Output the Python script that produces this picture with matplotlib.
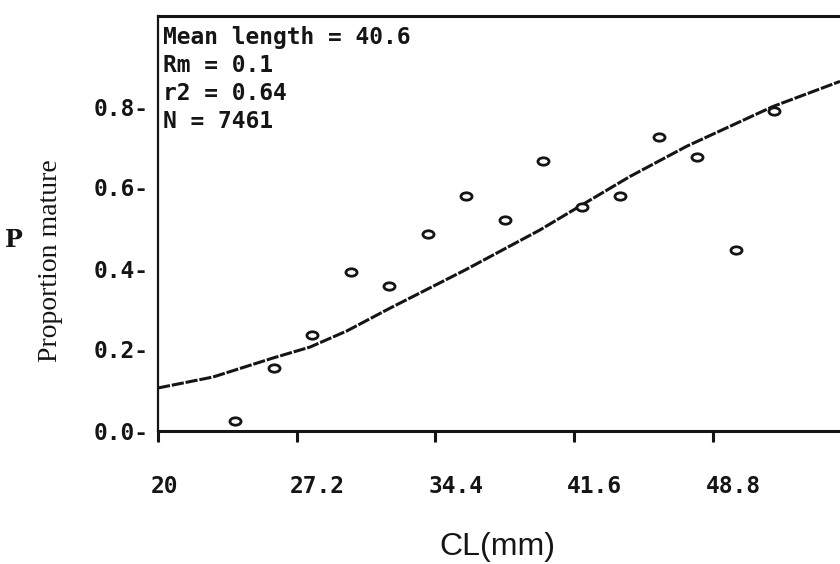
import matplotlib
matplotlib.use("Agg")
import matplotlib.pyplot as plt
from matplotlib.path import Path
from matplotlib.transforms import Affine2D, ScaledTranslation

# ---- data ----
length_cl = [24, 26, 28, 30, 32, 34, 36, 38, 40, 42, 44, 46, 48, 50, 52]
prop_mature = [0.023, 0.154, 0.236, 0.391, 0.357, 0.485, 0.579, 0.520,
               0.665, 0.553, 0.580, 0.725, 0.675, 0.446, 0.789]

fit_cl = [20.0, 22.85, 25.97, 27.89, 29.81, 32.04, 35.93, 39.82,
          41.90, 44.49, 47.45, 51.92, 55.4]
fit_p = [0.105, 0.132, 0.179, 0.206, 0.246, 0.302, 0.396, 0.495,
         0.554, 0.627, 0.702, 0.800, 0.862]

x_ticks = [20, 27.2, 34.4, 41.6, 48.8]
x_tick_labels = ["20", "27.2", "34.4", "41.6", "48.8"]
y_ticks = [0.0, 0.2, 0.4, 0.6, 0.8]
y_tick_labels = ["0.0-", "0.2-", "0.4-", "0.6-", "0.8-"]

stats_lines = ["Mean length = 40.6", "Rm = 0.1", "r2 = 0.64", "N = 7461"]

# ---- figure ----
W, H, DPI = 840, 564, 100
fig = plt.figure(figsize=(W / DPI, H / DPI), dpi=DPI, facecolor="white")
left, right, top, bottom = 158, 840, 16, 430.5
ax = fig.add_axes([left / W, 1 - bottom / H, (right - left) / W, (bottom - top) / H])
ax.set_xlim(20, 55.4)
ax.set_ylim(0, (bottom - top) / 405)

ink = "#151515"
mono = {"family": "DejaVu Sans Mono", "weight": "bold", "size": 16.5}

# ellipse marker
ell = Path.unit_circle().transformed(Affine2D().scale(1.5, 1.0))

ax.plot(fit_cl, fit_p, color=ink, lw=2.2, linestyle=(0, (4, 0.6)), zorder=2)
ax.plot(length_cl, prop_mature, linestyle="none", marker=ell, markersize=8,
        markerfacecolor="white", markeredgecolor=ink, markeredgewidth=2.0, zorder=3)

# spines
for s in ["left", "bottom", "top"]:
    ax.spines[s].set_color(ink)
ax.spines["left"].set_linewidth(1.6)
ax.spines["bottom"].set_linewidth(2.2)
ax.spines["top"].set_linewidth(2.2)
ax.spines["right"].set_visible(False)

ax.set_xticks(x_ticks)
ax.set_xticklabels(x_tick_labels, fontdict=mono, ha="left")
ax.tick_params(axis="x", direction="out", length=8, width=2.2, color=ink,
               pad=24, labelcolor=ink)
for lab in ax.get_xticklabels():
    lab.set_transform(lab.get_transform() + ScaledTranslation(-7 / DPI, 0, fig.dpi_scale_trans))

ax.set_yticks(y_ticks)
ax.set_yticklabels(y_tick_labels, fontdict=mono)
ax.tick_params(axis="y", length=0, pad=7, labelcolor=ink)

# stats text
ax.text(163 / W, 1 - 26 / H, "\n".join(stats_lines), transform=fig.transFigure,
        ha="left", va="top", color=ink, linespacing=1.28, **mono)

# axis labels
fig.text(14 / W, 1 - 240 / H, "P", ha="center", va="center", color=ink,
         family="DejaVu Serif", weight="bold", size=17)
fig.text(51 / W, 1 - 261 / H, "Proportion mature", rotation=90, ha="center",
         va="center", family="Liberation Serif", size=20, color=ink)
fig.text(497 / W, 1 - 547 / H, "CL(mm)", ha="center", va="center",
         family="Liberation Sans", size=23, color=ink)

fig.savefig("out.png", dpi=DPI, facecolor="white")
